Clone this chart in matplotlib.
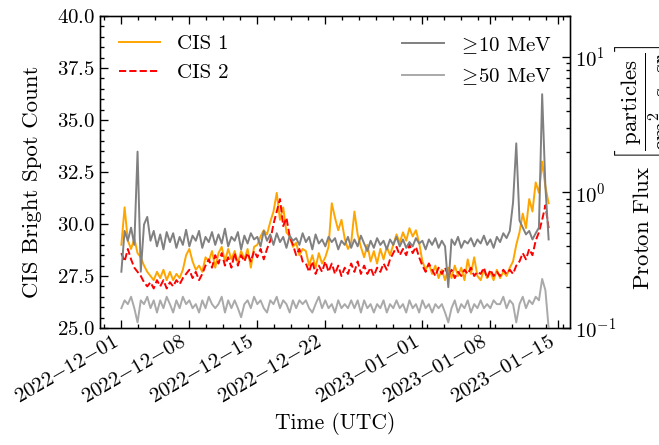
import numpy as np
import pandas as pd
import matplotlib
matplotlib.use("Agg")
import matplotlib.pyplot as plt
import matplotlib.dates as mdates
from matplotlib.ticker import AutoMinorLocator, FuncFormatter

# -----------------------------
# DATA (8-hour steps)
# -----------------------------
times = pd.date_range("2022-12-01", "2023-01-14", freq="8h")

cis1 = [
    29.0, 30.8, 29.2,  28.8, 29.3, 28.6,  28.4, 28.0, 27.7,  27.5, 27.3, 27.7,
    27.4, 27.8, 27.3,  27.7, 27.3, 27.6,  27.4, 27.8, 28.5,  28.8, 28.2, 27.8,
    28.0, 27.7, 28.4,  28.2, 28.7, 27.9,  28.6, 28.9, 28.2,  28.8, 28.3, 28.7,
    28.1, 28.7, 28.3,  28.8, 27.9, 28.9,  29.0, 29.4, 29.7,  29.5, 30.1, 30.6,
    31.5, 30.2, 30.8,  29.6, 29.4, 28.9,  29.1, 28.5, 28.8,  28.7, 28.0, 28.5,
    27.9, 28.6, 28.1,  28.4, 28.9, 31.0,  30.3, 29.7, 30.2,  29.3, 28.8, 29.1,
    30.6, 29.5, 28.9,  28.4, 29.0, 28.2,  28.7, 28.1, 28.8,  28.3, 28.9, 28.5,
    29.0, 29.5, 29.1,  29.6, 29.2, 29.8,  29.4, 29.7, 29.1,  28.2, 27.8, 28.1,
    27.6, 28.0, 27.4,  27.8, 27.3, 27.9,  27.4, 28.0, 27.5,  27.9, 27.3, 28.3,
    27.6, 28.4, 27.5,  27.3, 27.8, 27.4,  27.7, 27.3, 27.8,  27.4, 27.7, 27.5,
    27.9, 28.2, 29.0,  29.6, 30.5, 29.8,  31.2, 30.6, 32.0,  31.5, 33.0, 31.8,
    31.0,
]

cis2 = [
    28.6, 28.2, 28.8,  28.3, 27.9, 27.7,  27.5, 27.2, 27.0,  27.2, 26.9, 27.3,
    27.0, 27.3, 26.9,  27.2, 27.0, 27.3,  27.1, 27.4, 27.6,  27.8, 27.4, 27.7,
    27.3, 27.6, 28.0,  28.3, 27.9, 28.5,  28.1, 28.6, 28.0,  28.4, 27.9, 28.6,
    28.0, 28.5, 28.2,  28.6, 28.2, 28.7,  28.4, 28.8, 28.3,  28.8, 29.2, 30.0,
    30.6, 31.2, 29.9,  30.3, 29.4, 29.0,  28.5, 28.8, 28.2,  28.1, 27.7, 28.2,
    27.6, 28.0, 27.7,  28.2, 27.7, 28.1,  27.6, 28.0, 27.5,  27.9, 27.6, 28.1,
    27.7, 28.2, 27.6,  28.0, 27.6, 27.9,  27.5, 27.9, 27.7,  28.1, 27.8, 28.3,
    28.6, 28.9, 28.5,  28.8, 28.5, 29.0,  28.6, 28.9, 28.4,  28.0, 27.7, 28.1,
    27.8, 27.5, 27.9,  27.6, 27.9, 27.5,  27.8, 27.4, 27.7,  27.5, 27.8, 27.6,
    27.9, 27.5, 27.7,  27.6, 27.9, 27.4,  27.8, 27.5, 27.7,  27.5, 27.8, 27.6,
    27.8, 27.6, 28.0,  28.2, 28.6, 28.3,  28.8, 28.5, 29.2,  29.6, 30.2, 30.9,
    29.8,
]

flux10 = [
    0.26, 0.52, 0.44,  0.55, 0.41, 2.00,  0.26, 0.58, 0.66,  0.44, 0.52, 0.40,
    0.49, 0.38, 0.51,  0.43, 0.50, 0.39,  0.47, 0.41, 0.53,  0.40, 0.48, 0.44,
    0.52, 0.39, 0.47,  0.43, 0.51, 0.41,  0.49, 0.42, 0.54,  0.40, 0.47, 0.44,
    0.51, 0.38, 0.48,  0.42, 0.50, 0.45,  0.47, 0.40, 0.52,  0.44, 0.49, 0.41,
    0.50, 0.43, 0.47,  0.39, 0.48, 0.44,  0.46, 0.41, 0.50,  0.43, 0.47, 0.38,
    0.49, 0.42, 0.45,  0.40, 0.47, 0.43,  0.46, 0.38, 0.44,  0.41, 0.47, 0.39,
    0.45, 0.40, 0.48,  0.42, 0.37, 0.44,  0.39, 0.46, 0.41,  0.44, 0.38, 0.45,
    0.41, 0.47, 0.40,  0.45, 0.39, 0.43,  0.40, 0.46, 0.42,  0.44, 0.38, 0.45,
    0.41, 0.46, 0.39,  0.44, 0.40, 0.20,  0.45, 0.41, 0.47,  0.39, 0.44, 0.42,
    0.46, 0.40, 0.45,  0.42, 0.48, 0.41,  0.45, 0.39, 0.47,  0.43, 0.50, 0.46,
    0.52, 0.84, 2.30,  0.62, 0.55, 0.49,  0.52, 0.45, 0.50,  0.55, 5.30, 1.10,
    0.45,
]

flux50 = [
    0.14, 0.16, 0.15,  0.17, 0.14, 0.11,  0.16, 0.15, 0.17,  0.14, 0.16, 0.13,
    0.16, 0.14, 0.17,  0.15, 0.13, 0.16,  0.14, 0.17, 0.15,  0.16, 0.14, 0.15,
    0.13, 0.16, 0.14,  0.17, 0.15, 0.14,  0.15, 0.17, 0.13,  0.16, 0.14, 0.16,
    0.14, 0.12, 0.15,  0.16, 0.14, 0.17,  0.15, 0.16, 0.14,  0.13, 0.16, 0.15,
    0.17, 0.14, 0.16,  0.15, 0.13, 0.16,  0.14, 0.16, 0.15,  0.16, 0.14, 0.13,
    0.15, 0.17, 0.14,  0.16, 0.14, 0.15,  0.13, 0.16, 0.14,  0.15, 0.14, 0.16,
    0.14, 0.16, 0.13,  0.16, 0.14, 0.15,  0.13, 0.15, 0.14,  0.16, 0.13, 0.15,
    0.14, 0.16, 0.14,  0.15, 0.13, 0.16,  0.14, 0.15, 0.13,  0.16, 0.14, 0.15,
    0.13, 0.15, 0.14,  0.15, 0.13, 0.11,  0.14, 0.16, 0.13,  0.15, 0.14, 0.16,
    0.13, 0.15, 0.14,  0.16, 0.14, 0.15,  0.14, 0.16, 0.15,  0.15, 0.17, 0.14,
    0.16, 0.15, 0.11,  0.15, 0.17, 0.14,  0.16, 0.15, 0.17,  0.16, 0.23, 0.19,
    0.10,
]

# -----------------------------
# STYLE
# -----------------------------
plt.rcParams.update({
    "font.family": "serif",
    "font.serif": ["cmr10"],
    "mathtext.fontset": "cm",
    "axes.unicode_minus": False,
    "axes.formatter.use_mathtext": True,
    "font.size": 15,
    "axes.linewidth": 0.95,
    "xtick.direction": "in",
    "ytick.direction": "in",
    "xtick.top": True,
    "ytick.right": True,
    "xtick.major.size": 5.6,
    "ytick.major.size": 5.6,
    "xtick.minor.size": 2.8,
    "ytick.minor.size": 2.8,
    "xtick.major.width": 0.95,
    "ytick.major.width": 0.95,
    "xtick.minor.width": 0.95,
    "ytick.minor.width": 0.95,
    "xtick.minor.visible": True,
    "ytick.minor.visible": True,
    "legend.frameon": False,
})

fig = plt.figure(figsize=(6.59, 4.45), dpi=100)
ax1 = fig.add_axes([100 / 659, 1 - 328 / 445, 470 / 659, 312 / 445])
ax2 = ax1.twinx()

# -----------------------------
# PLOT
# -----------------------------
ax1.plot(times, cis1, color="orange", lw=1.4, label="CIS 1")
ax1.plot(times, cis2, color="red", lw=1.4, ls="--", label="CIS 2")
ax2.plot(times, flux10, color="gray", lw=1.4, label=r"$\!\geq\!$10 MeV")
ax2.plot(times, flux50, color="darkgray", lw=1.4, label=r"$\!\geq\!$50 MeV")

ax1.set_ylim(25, 40)
ax2.set_yscale("log")
ax2.set_ylim(0.1, 20)

# dates as math text so the dashes come out like the reference
def date_fmt(x, pos):
    s = mdates.num2date(x).strftime("%Y{-}%m{-}%d")
    return r"$\mathrm{" + s + "}$"

ax1.xaxis.set_major_locator(mdates.AutoDateLocator())
ax1.xaxis.set_major_formatter(FuncFormatter(date_fmt))
ax1.xaxis.set_minor_locator(AutoMinorLocator())
ax1.tick_params(axis="x", labelrotation=30)
plt.setp(ax1.get_xticklabels(), ha="right")

ax1.set_xlabel("Time (UTC)", fontsize=15.5)
ax1.set_ylabel("CIS Bright Spot Count", fontsize=16.5)
ax1.yaxis.set_label_coords(-0.123, 0.47)
ax2.set_ylabel(r"Proton Flux $\left[\dfrac{\mathrm{particles}}{\mathrm{cm}^2\cdot\mathrm{s}\cdot\mathrm{sr}}\right]$",
               fontsize=16.5)
ax2.yaxis.set_label_coords(1.172, 0.516)
ax2.yaxis.label.set_verticalalignment("baseline")

ax1.legend(loc="upper left")
ax2.legend(loc="upper right")

fig.savefig("out.png", dpi=100)
